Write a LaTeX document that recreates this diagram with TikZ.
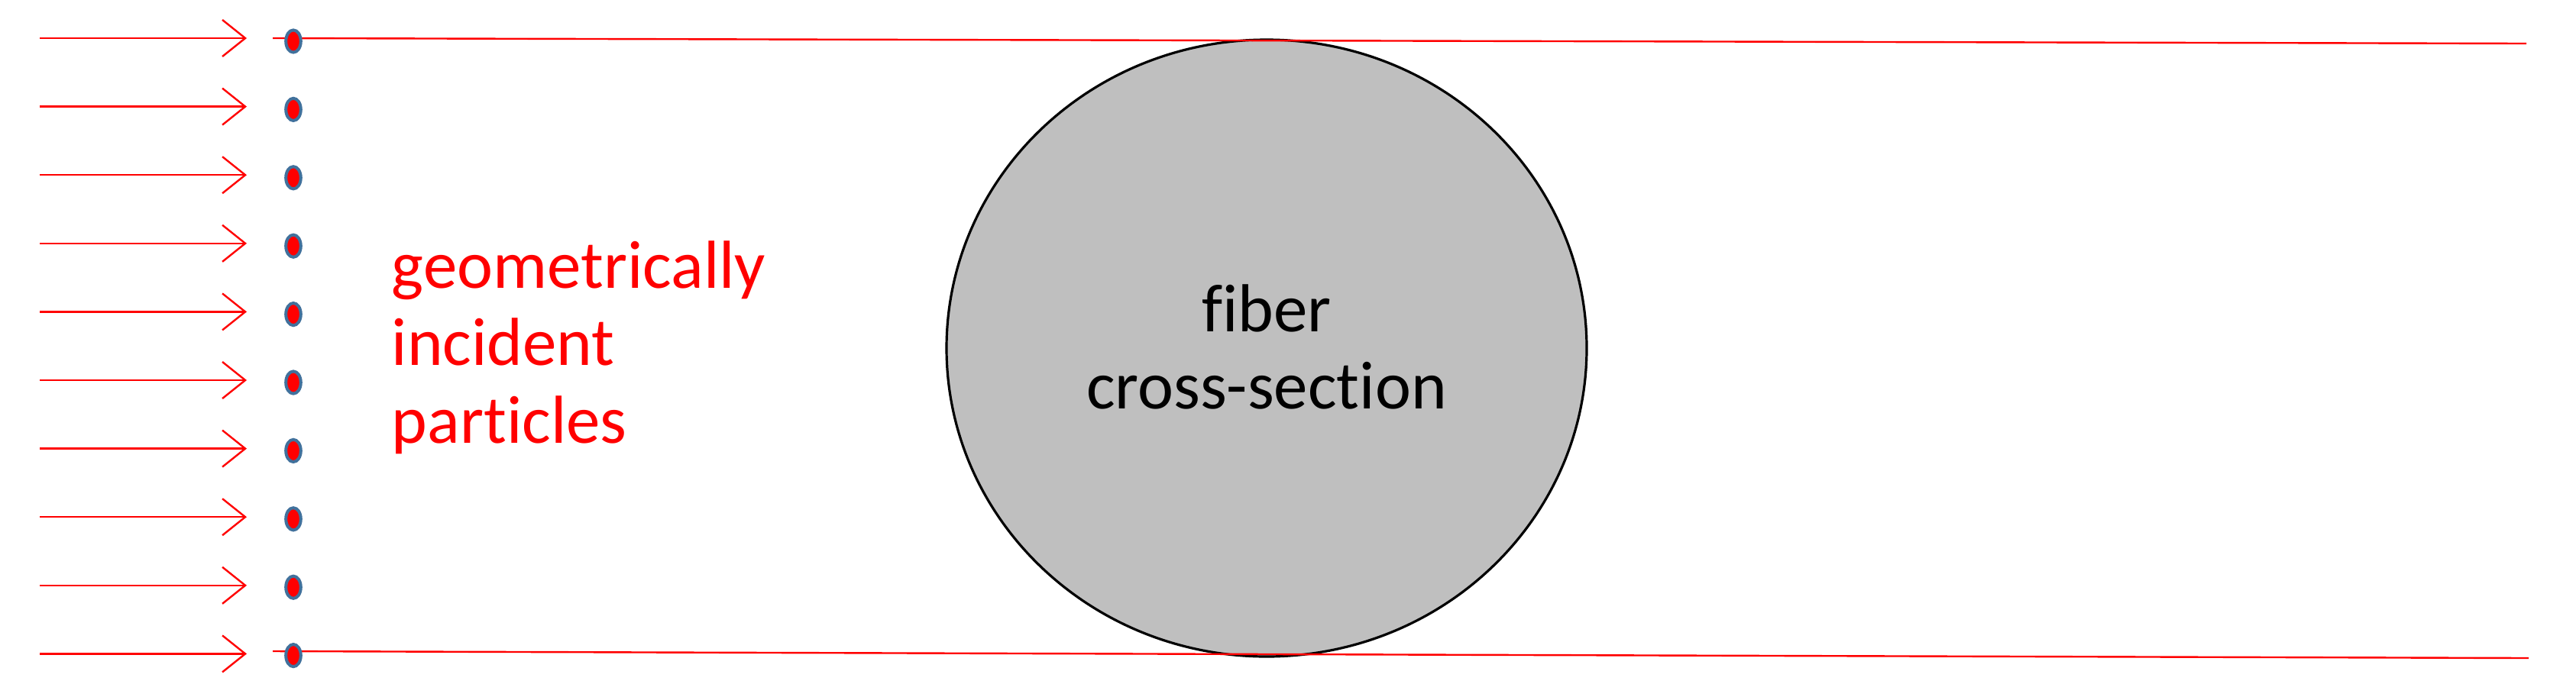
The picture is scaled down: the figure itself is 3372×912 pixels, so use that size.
\documentclass[tikz,border=0pt]{standalone}
\usepackage{fontspec}
\setmainfont[Ligatures=CommonOff]{Carlito}
\usetikzlibrary{arrows.meta,shapes.geometric}
\definecolor{dotblue}{RGB}{65,113,156}
\definecolor{fibergray}{RGB}{191,191,191}
\begin{document}
\begin{tikzpicture}[x=0.25pt,y=-0.25pt,
  arr/.style={draw=red, line width=0.6pt, -{Straight Barb[length=7.5pt,width=12pt,line width=0.6pt]}},
  edge/.style={draw=red, line width=0.6pt},
  dot/.style={ellipse, draw=dotblue, fill=red, line width=1pt, inner sep=0pt, minimum width=4.9pt, minimum height=7.3pt},
  fiberstyle/.style={ellipse, draw=black, fill=fibergray, line width=0.8pt, inner sep=0pt, minimum width=209.5pt, minimum height=202pt},
  lab/.style={font=\fontsize{22.25pt}{25.25pt}\selectfont, inner sep=0pt}
]
\useasboundingbox (0,0) rectangle (3372,912);
% fiber
\node[fiberstyle] (fiber) at (1658,456) {};
\node[lab, anchor=base] (f1) at (1658,434) {fiber};
\node[lab, anchor=base] (f2) at (1658,535) {cross-section};
% boundary lines
\coordinate (tl) at (357,50);
\coordinate (tr) at (3307,57);
\coordinate (bl) at (357,853);
\coordinate (br) at (3310,862);
\draw[edge] (tl) -- (tr);
\draw[edge] (bl) -- (br);
% arrows and particles
\foreach \i in {0,...,9}{
  \coordinate (s\i) at (52,{50+89.6*\i});
  \coordinate (e\i) at (323,{50+89.6*\i});
  \draw[arr] (s\i) -- (e\i);
  \node[dot] (d\i) at (384,{54+89.4*\i}) {};
}
% label
\node[lab, text=red, anchor=base west] (g1) at (512,377) {geometrically};
\node[lab, text=red, anchor=base west] (g2) at (512,478) {incident};
\node[lab, text=red, anchor=base west] (g3) at (512,580) {particles};
\end{tikzpicture}
\end{document}
